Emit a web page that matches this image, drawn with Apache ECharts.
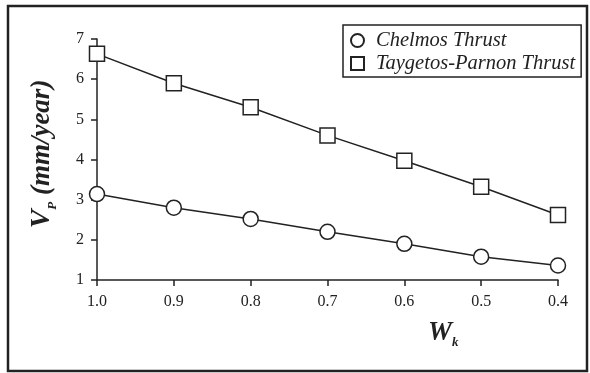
<!DOCTYPE html>
<html>
<head>
<meta charset="utf-8">
<script src="https://cdn.jsdelivr.net/npm/echarts@6/dist/echarts.min.js"></script>
<style>
  html, body { margin: 0; padding: 0; background: #fff; }
  #chart { width: 590px; height: 373px; }
</style>
</head>
<body>
<div id="chart"></div>
<script>
var wk = [1.0, 0.9, 0.8, 0.7, 0.6, 0.5, 0.4];
var chelmos = [3.14, 2.8, 2.52, 2.2, 1.9, 1.58, 1.36];
var taygetos = [6.63, 5.9, 5.3, 4.6, 3.97, 3.32, 2.62];
var names = ['Chelmos Thrust', 'Taygetos-Parnon Thrust'];

var ink = '#222';
var serif = '"Liberation Serif", "DejaVu Serif", serif';

function pairs(ys) {
    return wk.map(function (x, i) { return [x, ys[i]]; });
}

var myChart = echarts.init(document.getElementById('chart'));

myChart.setOption({
    backgroundColor: '#fff',
    animation: false,
    grid: { left: 97, right: 32, top: 39, bottom: 93 },
    legend: {
        orient: 'vertical',
        left: 343,
        top: 25,
        padding: [5, 6, 3, 7],
        itemGap: 2,
        itemWidth: 13,
        itemHeight: 13,
        borderColor: ink,
        borderWidth: 1.5,
        textStyle: {
            fontFamily: serif, fontStyle: 'italic', fontSize: 20.5, lineHeight: 21,
            color: ink, padding: [0, 0, 0, 7]
        },
        data: [
            { name: names[0], icon: 'circle' },
            { name: names[1], icon: 'rect' }
        ]
    },
    xAxis: {
        type: 'value',
        inverse: true,
        min: 0.4,
        max: 1.0,
        interval: 0.1,
        splitLine: { show: false },
        axisLine: { lineStyle: { color: ink, width: 1.5 } },
        axisTick: { length: 6, lineStyle: { color: ink, width: 1.5 } },
        axisLabel: {
            margin: 14, color: ink, fontFamily: serif, fontSize: 16,
            formatter: function (v) { return v.toFixed(1); }
        }
    },
    yAxis: {
        type: 'value',
        min: 1,
        max: 7,
        interval: 1,
        splitLine: { show: false },
        axisLine: { show: true, lineStyle: { color: ink, width: 1.5 } },
        axisTick: { show: true, length: 6, lineStyle: { color: ink, width: 1.5 } },
        axisLabel: { margin: 13, color: ink, fontFamily: serif, fontSize: 16 },
        name: '{v|V}{s|P}  {u|(mm/year)}',
        nameLocation: 'middle',
        nameRotate: 90,
        nameGap: 38,
        nameTextStyle: {
            rich: {
                v: { fontFamily: serif, fontStyle: 'italic', fontWeight: 'bold', fontSize: 28, color: ink, lineHeight: 34, padding: [0, 0, 0, 11] },
                s: { fontFamily: serif, fontStyle: 'italic', fontWeight: 'bold', fontSize: 13, color: ink, lineHeight: 34, verticalAlign: 'bottom', padding: [9, 0, 0, 0] },
                u: { fontFamily: serif, fontStyle: 'italic', fontWeight: 'bold', fontSize: 27, color: ink, lineHeight: 34 }
            }
        }
    },
    graphic: [
        {
            type: 'rect',
            shape: { x: 8, y: 6, width: 579, height: 365 },
            style: { fill: 'none', stroke: ink, lineWidth: 2.5 },
            silent: true
        },
        {
            type: 'text',
            left: 428,
            top: 320,
            style: {
                text: '{w|W}{k|k}',
                rich: {
                    w: { fontFamily: serif, fontStyle: 'italic', fontWeight: 'bold', fontSize: 27, fill: ink, lineHeight: 32 },
                    k: { fontFamily: serif, fontStyle: 'italic', fontWeight: 'bold', fontSize: 13, fill: ink, lineHeight: 32, verticalAlign: 'bottom', padding: [12, 0, 0, 0] }
                }
            }
        }
    ],
    series: [
        {
            name: names[0],
            type: 'line',
            data: pairs(chelmos),
            symbol: 'circle',
            symbolSize: 15,
            z: 3,
            lineStyle: { color: ink, width: 1.5 },
            itemStyle: { color: '#fff', borderColor: ink, borderWidth: 1.5 }
        },
        {
            name: names[1],
            type: 'line',
            data: pairs(taygetos),
            symbol: 'rect',
            symbolSize: 15,
            z: 3,
            lineStyle: { color: ink, width: 1.5 },
            itemStyle: { color: '#fff', borderColor: ink, borderWidth: 1.5 }
        }
    ]
});
</script>
</body>
</html>
